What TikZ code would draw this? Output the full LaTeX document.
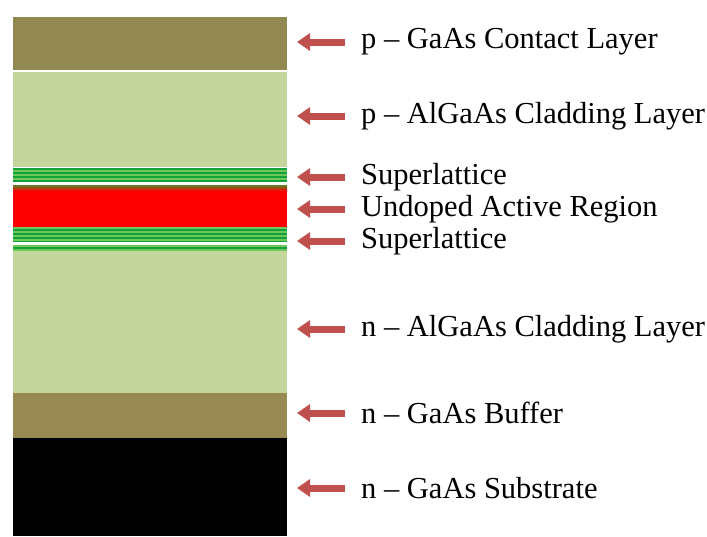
\documentclass[tikz,border=0pt]{standalone}
\usepackage{fontspec}
\setmainfont{Liberation Serif}
\usetikzlibrary{arrows.meta}
\definecolor{contact}{RGB}{145,136,82}
\definecolor{buffer}{RGB}{150,138,82}
\definecolor{clad}{RGB}{196,214,155}
\definecolor{sldark}{RGB}{20,160,60}
\definecolor{sllight}{RGB}{110,200,90}
\definecolor{arrred}{RGB}{192,80,77}
\definecolor{olivegreen}{RGB}{90,130,40}
\begin{document}
\begin{tikzpicture}[x=1pt,y=-1pt,
  layer/.style={draw=none,inner sep=0pt,outer sep=0pt,minimum width=274pt,anchor=north west},
  lab/.style={anchor=west,inner sep=0pt,font=\fontsize{30.5}{34}\selectfont},
  arr/.style={arrred,line width=7pt,-{Triangle[length=13pt,width=17pt]}}]
\useasboundingbox[fill=white] (0,0) rectangle (707,536);
% layers
\node[layer,fill=contact,minimum height=53pt] (contact) at (13,17) {};
\node[layer,fill=clad,minimum height=95pt] (pclad) at (13,72) {};
\node[layer,fill=sldark,minimum height=14pt] (sltop) at (13,168) {};
\foreach \y in {170,174,178} \fill[sllight] (13,\y) rectangle (287,\y+2);
\node[layer,fill=red,minimum height=42pt] (active) at (13,185) {};
\shade[top color=olivegreen,bottom color=red] (13,185) rectangle (287,191);
\node[layer,fill=sldark,minimum height=15pt] (slbot) at (13,227) {};
\foreach \y in {227,231,235,239} \fill[sllight] (13,\y) rectangle (287,\y+2);
\node[layer,fill=sllight,minimum height=6pt] (slbot2) at (13,245) {};
\fill[sldark] (13,247) rectangle (287,249);
\node[layer,fill=clad,minimum height=142pt] (nclad) at (13,251) {};
\node[layer,fill=buffer,minimum height=45pt] (buffer) at (13,393) {};
\node[layer,fill=black,minimum height=98pt] (subs) at (13,438) {};
% labels
\node[lab] (l1) at (361,42) {p – GaAs Contact Layer};
\node[lab] (l2) at (361,116) {p – AlGaAs Cladding Layer};
\node[lab] (l3) at (361,177) {Superlattice};
\node[lab] (l4) at (361,209) {Undoped Active Region};
\node[lab] (l5) at (361,241) {Superlattice};
\node[lab] (l6) at (361,329) {n – AlGaAs Cladding Layer};
\node[lab] (l7) at (361,413) {n – GaAs Buffer};
\node[lab] (l8) at (361,488) {n – GaAs Substrate};
% arrows
\foreach \n in {l1,l2,l3,l4,l5,l6,l7,l8}
  \draw[arr] ([xshift=-16pt]\n.west) -- ([xshift=-64pt]\n.west);
\end{tikzpicture}
\end{document}
